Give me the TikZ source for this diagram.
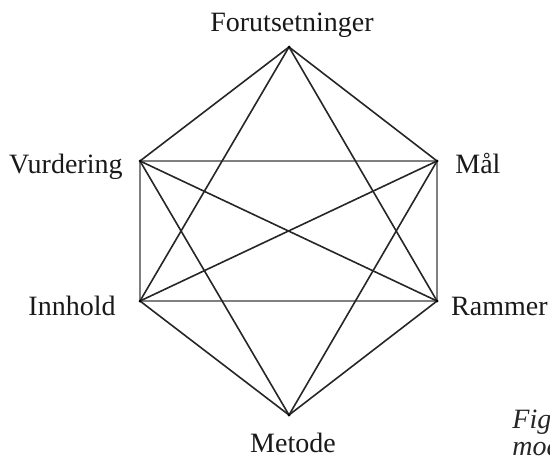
\documentclass[tikz,border=0pt]{standalone}
\usepackage{fontspec}
\setmainfont{Liberation Serif}
\begin{document}
\begin{tikzpicture}[x=0.5pt,y=-0.5pt,
  lbl/.style={font=\fontsize{14}{17}\selectfont, inner sep=0pt, text=black!90},
  dark/.style={draw=black!85, line width=0.8pt},
  light/.style={draw=black!50, line width=1pt},
  captxt/.style={font=\fontsize{14}{17}\selectfont\itshape, inner sep=0pt, anchor=base west, text=black!85}]
\useasboundingbox (0,0) rectangle (550,460);
\coordinate (F) at (289,47);
\coordinate (V) at (140,161);
\coordinate (M) at (437,161);
\coordinate (I) at (140,301);
\coordinate (R) at (437,301);
\coordinate (E) at (289,415);
% light horizontal/vertical edges
\draw[light] (V) -- (M);
\draw[light] (I) -- (R);
\draw[light] (V) -- (I);
\draw[light] (M) -- (R);
% dark edges
\foreach \a/\b in {F/V,F/M,F/I,F/R,E/V,E/M,E/I,E/R,V/R,I/M}
  \draw[dark] (\a) -- (\b);
\foreach \p in {F,V,M,I,R,E} \fill[black] (\p) circle (1.5);
\node[lbl, anchor=base] (lF) at (292,32) {Forutsetninger};
\node[lbl, anchor=base east] (lV) at (123,173) {Vurdering};
\node[lbl, anchor=base west] (lM) at (455,173) {Mål};
\node[lbl, anchor=base east] (lI) at (116,315) {Innhold};
\node[lbl, anchor=base east] (lR) at (548,315) {Rammer};
\node[lbl, anchor=base] (lE) at (293,452) {Metode};
\begin{scope}
\clip (0,0) rectangle (550,460);
\node[captxt] (c1) at (512,428) {Figur};
\node[captxt] (c2) at (512,455) {modell};
\end{scope}
\end{tikzpicture}
\end{document}
